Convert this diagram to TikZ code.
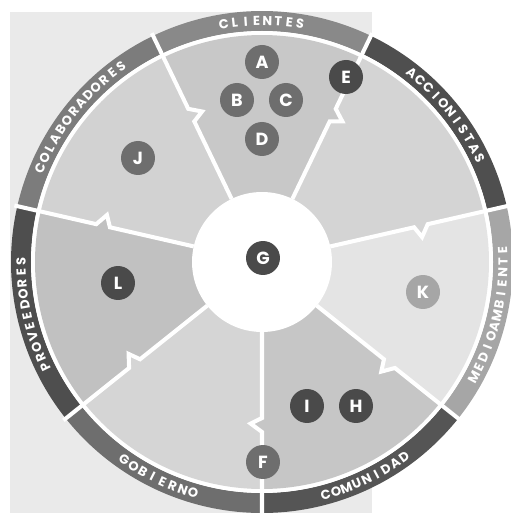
\documentclass[tikz,border=0pt]{standalone}
\usepackage{fontspec}
\setmainfont{Poppins}
\usepackage{tikz}
\definecolor{paper}{HTML}{EAEAEA}
\definecolor{bandCom}{HTML}{555555}
\definecolor{bandMed}{HTML}{A6A6A6}
\definecolor{bandAcc}{HTML}{4F4F4F}
\definecolor{bandCli}{HTML}{898989}
\definecolor{bandCol}{HTML}{7C7C7C}
\definecolor{bandPro}{HTML}{4E4E4E}
\definecolor{bandGob}{HTML}{6E6E6E}
\definecolor{secCom}{HTML}{C6C6C6}
\definecolor{secMed}{HTML}{E4E4E4}
\definecolor{secAcc}{HTML}{D4D4D4}
\definecolor{secCli}{HTML}{C8C8C8}
\definecolor{secCol}{HTML}{D2D2D2}
\definecolor{secPro}{HTML}{C1C1C1}
\definecolor{secGob}{HTML}{D5D5D5}
\definecolor{badgeDark}{HTML}{4A4A4A}
\definecolor{badgeMid}{HTML}{6E6E6E}
\definecolor{badgeLight}{HTML}{A6A6A6}

\begin{document}
\begin{tikzpicture}[
    x=0.02cm, y=0.02cm,
    badge/.style={circle, minimum size=0.68cm, inner sep=0pt, text=white,
        font=\fontsize{10}{10}\selectfont\bfseries},
    darkbadge/.style={badge, fill=badgeDark},
    midbadge/.style={badge, fill=badgeMid},
    lightbadge/.style={badge, fill=badgeLight},
    divider/.style={draw=white, line width=2.3pt, line join=miter},
    bandtext/.style={text=white, inner sep=0pt, font=\fontsize{7.4}{7.4}\selectfont\bfseries}
]
\useasboundingbox (-262,-251) rectangle (248,262);
\fill[paper] (-252,250) rectangle (110,-251);

% outer ring
\foreach \k/\col in {0/bandCom,1/bandMed,2/bandAcc,3/bandCli,4/bandCol,5/bandPro,6/bandGob}{
    \pgfmathsetmacro\ta{-90+\k*360/7}
    \pgfmathsetmacro\tb{\ta+360/7}
    \fill[\col] (\ta:231) arc[start angle=\ta, end angle=\tb, radius=231]
        -- (\tb:251) arc[start angle=\tb, end angle=\ta, radius=251] -- cycle;
}
\fill[white] (0,0) circle (231);

% stakeholder sectors
\foreach \k/\col in {0/secCom,1/secMed,2/secAcc,3/secCli,4/secCol,5/secPro,6/secGob}{
    \pgfmathsetmacro\ta{-90+\k*360/7}
    \pgfmathsetmacro\tb{\ta+360/7}
    \fill[\col] (\ta:60) -- (\ta:156) -- ({\ta-4}:162) -- (\ta:170) -- (\ta:227)
        arc[start angle=\ta, end angle=\tb, radius=227]
        -- (\tb:170) -- ({\tb-4}:162) -- (\tb:156) -- (\tb:60) -- cycle;
}
\foreach \k in {0,...,6}{
    \pgfmathsetmacro\ta{-90+\k*360/7}
    \draw[divider] (\ta:70) -- (\ta:156) -- ({\ta-4}:162) -- (\ta:170) -- (\ta:254);
}
\fill[white] (0,0) circle (70);

% ring labels
\foreach \k/\s/\n/\word in {0/1/9/{C,O,M,U,N,I,D,A,D},
    1/1/13/{M,E,D,I,O,A,M,B,I,E,N,T,E},
    2/-1/11/{A,C,C,I,O,N,I,S,T,A,S},
    3/-1/8/{C,L,I,E,N,T,E,S},
    4/-1/13/{C,O,L,A,B,O,R,A,D,O,R,E,S},
    5/-1/11/{P,R,O,V,E,E,D,O,R,E,S},
    6/1/8/{G,O,B,I,E,R,N,O}}{
    \foreach \ch [count=\i from 0] in \word {
        \pgfmathsetmacro\ang{-90+(\k+0.5)*360/7+\s*(\i-(\n-1)/2)*2.6}
        \pgfmathsetmacro\rot{\ang+\s*90}
        \node[bandtext, rotate=\rot] (lbl-\k-\i) at (\ang:241) {\ch};
    }
}

\node[midbadge] (A) at (0,200) {A};
\node[midbadge] (B) at (-25,162) {B};
\node[midbadge] (C) at (24,162) {C};
\node[midbadge] (D) at (0,123) {D};
\node[darkbadge] (E) at (84,185) {E};
\node[midbadge] (F) at (1,-200) {F};
\node[darkbadge] (G) at (1,4) {G};
\node[darkbadge] (H) at (94,-144) {H};
\node[darkbadge] (I) at (45,-144) {I};
\node[midbadge] (J) at (-124,104) {J};
\node[lightbadge] (K) at (161,-30) {K};
\node[darkbadge] (L) at (-144,-21) {L};
\end{tikzpicture}
\end{document}
